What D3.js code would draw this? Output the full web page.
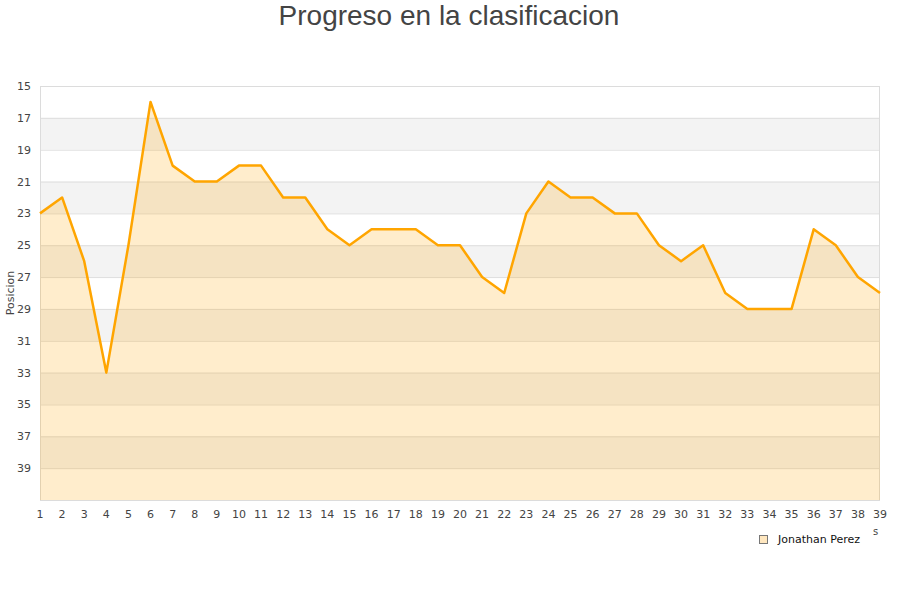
<!DOCTYPE html>
<html><head><meta charset="utf-8">
<script src="https://cdn.jsdelivr.net/npm/d3@7/dist/d3.min.js"></script>
<style>body{margin:0;background:#fff;}svg{display:block;font-family:"DejaVu Sans",sans-serif;}</style>
</head><body><svg id="c" width="900" height="600"></svg>
<script>
const rounds = d3.range(1, 40);
const positions = [23,22,26,33,25,16,20,21,21,20,20,22,22,24,25,24,24,24,25,25,27,28,23,21,22,22,23,23,25,26,25,28,29,29,29,24,25,27,28];
const yTicks = [15,17,19,21,23,25,27,29,31,33,35,37,39];
const seriesName = "Jonathan Perez";
const titleText = "Progreso en la clasificacion";
const yTitle = "Posicion";

const svg = d3.select("#c");
const L = 40, R = 880, T = 86, B = 500;
const x = d3.scaleLinear().domain([1, 39]).range([L, R]);
const y = d3.scaleLinear().domain([15, 41]).range([T, B]);

// bands
const bands = d3.range(15, 41, 2);
svg.append("g").selectAll("rect").data(bands).join("rect")
  .attr("x", L).attr("width", R - L)
  .attr("y", d => y(d)).attr("height", d => y(d + 2) - y(d))
  .attr("fill", (d, i) => i % 2 ? "#f3f3f3" : "#ffffff");

// grid
svg.append("g").selectAll("line").data(yTicks).join("line")
  .attr("x1", L).attr("x2", R).attr("y1", d => y(d) + 0.5).attr("y2", d => y(d) + 0.5)
  .attr("stroke", "#dedede").attr("stroke-width", 1);

// frame
svg.append("rect").attr("x", L + 0.5).attr("y", T + 0.5).attr("width", R - L - 1).attr("height", B - T)
  .attr("fill", "none").attr("stroke", "#dcdcdc");

// area
const area = d3.area().x((d, i) => x(rounds[i])).y0(y(41)).y1(d => y(d));
svg.append("path").datum(positions).attr("d", area).attr("fill", "rgba(255,165,0,0.2)");
const line = d3.line().x((d, i) => x(rounds[i])).y(d => y(d));
svg.append("path").datum(positions).attr("d", line).attr("fill", "none")
  .attr("stroke", "#ffa500").attr("stroke-width", 2.5).attr("stroke-linejoin", "round");

// y axis labels
svg.append("g").selectAll("text").data(yTicks).join("text")
  .attr("x", 31).attr("y", d => y(d) + 4).attr("text-anchor", "end")
  .attr("font-size", 11).attr("fill", "#444").text(d => d);

// x labels
svg.append("g").selectAll("text").data(rounds).join("text")
  .attr("x", d => x(d)).attr("y", 518).attr("text-anchor", "middle")
  .attr("font-size", 11).attr("fill", "#444").text(d => d);

// y title
svg.append("text").attr("transform", "translate(14,293) rotate(-90)")
  .attr("text-anchor", "middle").attr("font-size", 11).attr("fill", "#444").text(yTitle);

// title
svg.append("text").attr("x", 449).attr("y", 25).attr("text-anchor", "middle")
  .attr("font-family", "Liberation Sans, Arial, sans-serif").attr("font-size", 28).attr("fill", "#444").text(titleText);

// legend
svg.append("rect").attr("x", 759.5).attr("y", 535.5).attr("width", 8).attr("height", 8)
  .attr("fill", "#ffe7bf").attr("stroke", "#777");
svg.append("text").attr("x", 778).attr("y", 543).attr("font-size", 11).attr("fill", "#111").text(seriesName);
svg.append("text").attr("x", 873).attr("y", 535).attr("font-size", 10).attr("fill", "#444").text("s");
</script></body></html>
